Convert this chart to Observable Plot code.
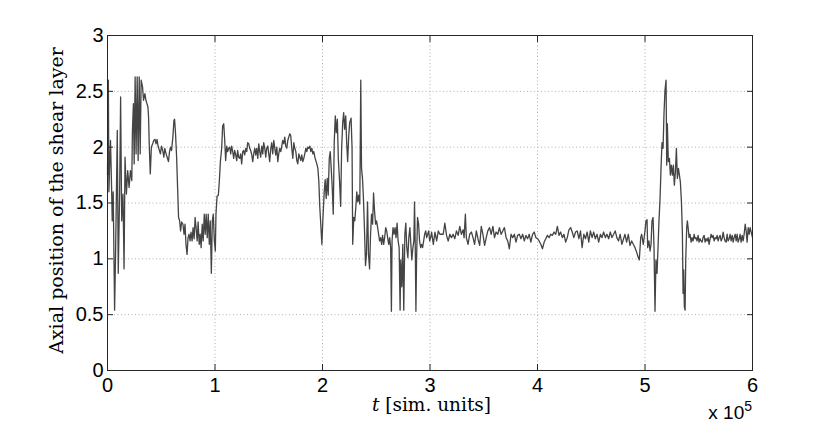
<!DOCTYPE html>
<html><head><meta charset="utf-8">
<script src="https://cdn.jsdelivr.net/npm/d3@7"></script>
<script src="https://cdn.jsdelivr.net/npm/@observablehq/plot@0.6"></script>
<style>
body{margin:0;background:#fff;}
#chart{width:830px;height:424px;}
</style></head><body><div id="chart"></div>
<script>
// time in thousands of simulation units
const timeK = [
0, 0.8, 1.3, 2.2, 2.8, 3.8, 4.4, 5.3, 6.6, 7.5,
9.1, 10.0, 11.3, 12.2, 13.2, 14.4, 15.4, 16.3, 17.6, 18.8,
20.1, 21.3, 22.6, 23.2, 24.1, 24.8, 25.7, 26.6, 27.6, 28.5,
29.5, 30.4, 31.3, 32.6, 33.5, 34.8, 35.7, 36.7, 37.6, 38.2,
38.9, 39.8, 40.8, 42.0, 43.0, 44.2, 45.1, 46.1, 47.0, 48.3,
49.2, 50.2, 51.4, 52.4, 53.3, 54.5, 55.5, 56.7, 57.7, 58.6,
59.6, 60.8, 61.8, 62.4, 63.3, 64.3, 65.2, 66.1, 67.1, 68.0,
69.0, 70.2, 71.2, 72.1, 73.0, 74.0, 74.9, 75.9, 76.8, 77.7,
78.7, 79.6, 80.6, 81.5, 82.4, 83.4, 84.3, 85.3, 86.2, 87.1,
88.1, 89.0, 90.0, 90.9, 91.8, 92.8, 93.7, 94.7, 95.6, 96.6,
97.5, 98.4, 99.4, 100.3, 100.9, 101.9, 103.1, 104.0, 105.0, 106.2,
107.1, 108.1, 109.0, 109.9, 110.9, 111.8, 112.7, 113.7, 114.6, 115.5,
116.5, 117.4, 118.3, 119.3, 120.2, 121.1, 122.0, 123.0, 123.9, 124.8,
125.8, 126.7, 127.6, 128.6, 129.5, 130.4, 131.4, 132.3, 133.2, 134.2,
135.1, 136.0, 137.0, 137.9, 138.8, 139.8, 140.7, 141.6, 142.5, 143.5,
144.4, 145.3, 146.3, 147.2, 148.1, 149.1, 150.0, 150.9, 151.9, 152.8,
153.7, 154.7, 155.6, 156.5, 157.5, 158.4, 159.3, 160.2, 161.2, 162.1,
163.0, 164.0, 164.9, 165.8, 166.8, 167.7, 168.6, 169.6, 170.5, 171.4,
172.4, 173.3, 174.2, 175.2, 176.1, 177.0, 178.0, 178.9, 179.8, 180.7,
181.7, 182.6, 183.5, 184.5, 185.4, 186.3, 187.3, 188.2, 189.1, 190.1,
191.0, 191.9, 192.9, 193.8, 194.7, 195.7, 196.6, 197.5, 198.4, 199.4,
200.3, 201.6, 202.5, 203.4, 204.4, 205.3, 206.3, 207.2, 208.1, 209.1,
210.0, 210.9, 211.9, 212.8, 213.8, 214.7, 215.9, 216.9, 217.8, 218.8,
219.7, 220.6, 221.6, 222.5, 223.4, 224.4, 225.3, 226.6, 227.5, 228.1,
229.1, 230.0, 231.0, 231.9, 232.8, 233.8, 234.7, 235.6, 236.3, 237.2,
238.1, 239.1, 240.0, 240.9, 241.9, 242.8, 243.8, 244.7, 245.6, 246.6,
247.5, 248.4, 249.4, 250.3, 251.3, 252.2, 253.1, 254.1, 255.0, 255.9,
256.9, 257.8, 258.8, 259.7, 260.6, 261.6, 262.5, 263.4, 264.1, 264.7,
265.6, 266.6, 267.5, 268.4, 269.4, 270.3, 271.3, 272.2, 272.8, 273.8,
274.7, 275.6, 276.6, 277.5, 278.4, 279.4, 280.3, 281.3, 282.2, 283.1,
284.1, 285.0, 285.6, 286.3, 286.9, 287.5, 288.4, 289.4, 290.3, 291.3,
292.2, 293.1, 294.1, 295.0, 296.0, 296.9, 297.8, 298.8, 299.7, 300.6,
301.5, 303.1, 304.6, 306.2, 307.7, 309.2, 310.8, 312.3, 313.8, 315.4,
316.9, 318.5, 320.0, 321.5, 323.1, 324.6, 326.2, 327.7, 329.2, 330.8,
331.7, 332.9, 333.8, 335.4, 336.9, 338.5, 340.0, 341.5, 343.1, 344.6,
346.2, 347.7, 349.2, 350.8, 352.3, 353.8, 355.4, 356.9, 358.5, 360.0,
361.5, 363.1, 364.6, 366.2, 367.7, 369.2, 370.8, 372.3, 373.8, 375.4,
376.9, 378.5, 380.0, 381.5, 383.1, 384.6, 386.2, 387.7, 389.2, 390.8,
392.3, 393.8, 395.4, 396.9, 398.5, 400.0, 401.5, 403.1, 404.6, 406.2,
407.7, 409.2, 410.8, 412.3, 413.8, 415.4, 416.9, 418.5, 420.0, 421.5,
423.1, 424.6, 426.2, 427.7, 429.2, 430.8, 432.3, 433.8, 435.4, 436.9,
438.5, 440.0, 441.5, 443.1, 444.6, 446.2, 447.7, 449.2, 450.8, 452.3,
453.8, 455.4, 456.9, 458.5, 460.0, 461.5, 463.1, 464.6, 466.2, 467.7,
469.2, 470.8, 472.3, 473.8, 475.4, 476.9, 478.5, 481.4, 482.9, 484.5,
486.0, 487.6, 489.1, 490.7, 492.2, 493.8, 494.7, 496.0, 496.9, 498.4,
500.0, 500.9, 501.9, 502.5, 503.7, 504.7, 505.6, 506.5, 507.5, 508.4,
509.3, 510.2, 511.2, 512.1, 513.0, 514.0, 514.9, 515.8, 516.8, 517.7,
518.6, 519.6, 520.2, 520.8, 521.7, 522.7, 523.6, 524.5, 525.5, 526.4,
527.3, 528.3, 529.2, 530.1, 531.1, 532.0, 532.9, 533.9, 534.8, 535.4,
536.0, 536.6, 537.3, 537.9, 538.8, 539.4, 540.1, 541.0, 541.9, 542.9,
543.8, 544.7, 545.7, 546.6, 547.5, 548.4, 549.4, 550.3, 551.2, 552.2,
553.1, 554.0, 555.0, 555.9, 556.8, 557.8, 558.7, 559.6, 560.6, 561.5,
562.4, 563.4, 564.3, 565.2, 566.1, 567.1, 568.0, 568.9, 569.9, 570.8,
571.7, 572.7, 573.6, 574.5, 575.5, 576.4, 577.3, 578.3, 579.2, 580.1,
581.1, 582.0, 582.9, 583.9, 584.8, 585.7, 586.6, 587.6, 588.5, 589.4,
590.4, 591.3, 592.2, 593.2, 594.1, 595.0, 596.0, 596.9, 597.8, 598.8,
600
];
const position = [
1.75, 2.6, 1.6, 1.9, 2.06, 1.64, 1.34, 1.6, 0.54, 1.04,
2.15, 0.87, 1.6, 2.45, 1.34, 1.58, 0.91, 1.91, 1.58, 1.79,
1.64, 1.79, 1.7, 2.15, 2.39, 1.85, 2.63, 1.94, 2.63, 1.88,
2.63, 1.94, 2.6, 2.54, 2.42, 2.48, 2.42, 2.39, 2.36, 2.27,
2.0, 1.76, 2.0, 2.03, 2.06, 2.07, 2.03, 2.07, 2.01, 1.97,
1.94, 2.01, 1.97, 1.91, 1.99, 1.94, 1.91, 1.87, 1.96, 2.0,
1.97, 2.09, 2.24, 2.25, 2.12, 1.91, 1.64, 1.37, 1.34, 1.25,
1.33, 1.31, 1.22, 1.31, 1.13, 1.04, 1.19, 1.22, 1.16, 1.24,
1.16, 1.28, 1.18, 1.37, 1.28, 1.16, 1.33, 1.13, 1.22, 1.1,
1.31, 1.16, 1.4, 1.22, 1.4, 1.19, 1.4, 1.13, 1.34, 0.87,
1.34, 1.4, 1.16, 1.07, 1.4, 1.56, 1.57, 1.69, 1.87, 1.99,
2.19, 2.21, 2.07, 1.88, 2.01, 1.96, 1.99, 2.0, 1.94, 2.01,
1.96, 1.9, 1.97, 1.93, 1.88, 1.97, 1.91, 1.9, 1.94, 1.85,
1.96, 1.97, 1.93, 1.99, 1.96, 2.04, 2.03, 1.99, 1.97, 1.93,
1.87, 1.94, 1.99, 1.93, 1.99, 1.9, 2.03, 1.96, 1.91, 2.01,
1.94, 2.04, 1.99, 1.91, 1.99, 2.01, 1.94, 1.87, 1.99, 2.04,
1.94, 2.06, 1.99, 1.93, 2.0, 1.87, 1.94, 1.99, 1.96, 2.01,
2.06, 2.03, 2.09, 2.01, 1.99, 2.06, 2.09, 2.12, 2.1, 1.99,
1.9, 2.04, 1.99, 1.96, 1.88, 1.85, 1.94, 1.91, 1.88, 1.93,
1.87, 1.9, 1.94, 1.99, 1.96, 2.0, 1.99, 2.01, 1.96, 1.99,
1.94, 1.96, 1.91, 1.88, 1.85, 1.81, 1.69, 1.46, 1.31, 1.13,
1.34, 1.6, 1.71, 1.54, 1.72, 1.57, 1.9, 1.96, 1.81, 1.63,
1.4, 2.04, 2.28, 2.13, 2.25, 1.9, 1.69, 1.47, 1.99, 2.22,
2.31, 2.16, 2.28, 2.04, 1.87, 2.1, 2.22, 2.26, 1.99, 1.13,
1.37, 1.34, 1.46, 1.6, 1.51, 1.57, 1.49, 2.6, 1.81, 1.72,
1.54, 1.25, 0.94, 1.04, 1.51, 1.04, 0.91, 1.22, 1.4, 1.31,
1.59, 1.43, 1.31, 1.34, 1.28, 1.22, 1.16, 1.19, 1.13, 1.21,
1.13, 1.19, 1.28, 1.25, 1.19, 1.13, 1.19, 1.1, 0.53, 1.16,
1.28, 1.22, 1.28, 1.19, 1.32, 1.16, 1.1, 0.54, 0.99, 0.75,
1.13, 0.54, 1.22, 1.32, 1.1, 1.01, 1.19, 1.28, 1.13, 0.99,
1.1, 1.16, 1.51, 1.1, 0.53, 0.99, 1.37, 1.31, 1.16, 1.1,
1.13, 1.1, 1.16, 1.22, 1.25, 1.19, 1.22, 1.25, 1.16, 1.19,
1.24, 1.13, 1.24, 1.16, 1.25, 1.22, 1.22, 1.22, 1.32, 1.21,
1.16, 1.22, 1.19, 1.22, 1.18, 1.25, 1.21, 1.29, 1.22, 1.26,
1.19, 1.4, 1.19, 1.13, 1.22, 1.24, 1.19, 1.13, 1.25, 1.18,
1.12, 1.29, 1.22, 1.12, 1.19, 1.25, 1.28, 1.22, 1.29, 1.19,
1.24, 1.22, 1.28, 1.22, 1.25, 1.28, 1.19, 1.16, 1.09, 1.22,
1.19, 1.22, 1.15, 1.21, 1.22, 1.18, 1.22, 1.16, 1.21, 1.18,
1.22, 1.15, 1.22, 1.24, 1.19, 1.18, 1.16, 1.13, 1.09, 1.15,
1.18, 1.21, 1.19, 1.22, 1.21, 1.24, 1.22, 1.29, 1.21, 1.24,
1.19, 1.22, 1.15, 1.19, 1.26, 1.28, 1.24, 1.19, 1.24, 1.25,
1.18, 1.25, 1.1, 1.22, 1.18, 1.24, 1.15, 1.25, 1.19, 1.24,
1.18, 1.22, 1.15, 1.22, 1.19, 1.24, 1.19, 1.22, 1.18, 1.24,
1.19, 1.22, 1.25, 1.19, 1.16, 1.22, 1.13, 1.22, 1.15, 1.22,
1.12, 1.16, 1.13, 1.1, 1.06, 1.01, 0.99, 1.19, 1.22, 1.13,
1.25, 1.34, 1.35, 1.1, 1.16, 1.07, 1.13, 1.34, 1.37, 1.1,
0.53, 0.99, 0.87, 1.1, 1.34, 1.54, 1.81, 2.04, 1.99, 2.31,
2.51, 2.6, 1.84, 2.21, 1.87, 1.9, 1.75, 1.84, 1.75, 1.84,
1.66, 1.78, 1.99, 1.72, 1.81, 1.75, 1.69, 1.51, 1.22, 0.69,
0.9, 0.57, 0.54, 0.99, 1.28, 1.34, 1.28, 1.19, 1.22, 1.15,
1.19, 1.16, 1.22, 1.18, 1.19, 1.16, 1.21, 1.15, 1.18, 1.16,
1.15, 1.19, 1.21, 1.15, 1.18, 1.16, 1.19, 1.13, 1.18, 1.22,
1.19, 1.21, 1.16, 1.19, 1.18, 1.21, 1.16, 1.19, 1.21, 1.16,
1.18, 1.24, 1.19, 1.16, 1.15, 1.22, 1.16, 1.18, 1.22, 1.16,
1.21, 1.15, 1.19, 1.22, 1.16, 1.22, 1.15, 1.18, 1.22, 1.15,
1.21, 1.16, 1.22, 1.31, 1.25, 1.15, 1.28, 1.22, 1.28, 1.24,
1.19
];
const xTicks = [0, 100, 200, 300, 400, 500, 600];
const xTickLabels = ["0", "1", "2", "3", "4", "5", "6"];
const yTicks = [0, 0.5, 1, 1.5, 2, 2.5, 3];
const yTickLabels = ["0", "0.5", "1", "1.5", "2", "2.5", "3"];
const yTitle = "Axial position of the shear layer";
const xTitleVar = "t";
const xTitleRest = " [sim. units]";
const xExponentBase = "x 10";
const xExponent = "5";

const data = timeK.map((t, i) => ({t, v: position[i]}));
const W = 830, H = 424, mL = 107, mR = 78, mT = 35, mB = 54;
const axisColor = "#262626";
const gridStyle = {stroke: "#b0b0b0", strokeOpacity: 1, strokeDasharray: "1,2.5", strokeWidth: 1};

const chart = Plot.plot({
  width: W, height: H,
  marginLeft: mL, marginRight: mR, marginTop: mT, marginBottom: mB,
  style: {fontFamily: "'Liberation Sans', Arial, sans-serif", fontSize: "20px", background: "#fff", color: "#000"},
  x: {domain: [0, 600]},
  y: {domain: [0, 3]},
  marks: [
    Plot.gridX(xTicks.slice(1, -1), gridStyle),
    Plot.gridY(yTicks.slice(1, -1), gridStyle),
    Plot.line(data, {x: "t", y: "v", stroke: "#444", strokeWidth: 1.3}),
    Plot.frame({stroke: axisColor, strokeWidth: 1}),
    Plot.axisX(xTicks, {anchor: "bottom", tickSize: -6, stroke: axisColor, tickFormat: () => "", label: null}),
    Plot.axisX(xTicks, {anchor: "top", tickSize: -6, stroke: axisColor, tickFormat: () => "", label: null}),
    Plot.axisY(yTicks, {anchor: "left", tickSize: -6, stroke: axisColor, tickFormat: () => "", label: null}),
    Plot.axisY(yTicks, {anchor: "right", tickSize: -6, stroke: axisColor, tickFormat: () => "", label: null}),
    Plot.axisX(xTicks, {anchor: "bottom", tickSize: 0, tickPadding: 7, fontSize: 20, tickFormat: d => xTickLabels[xTicks.indexOf(d)], label: null, fill: "#000"}),
    Plot.axisY(yTicks, {anchor: "left", tickSize: 0, tickPadding: 4, fontSize: 20, tickFormat: d => yTickLabels[yTicks.indexOf(d)], label: null, fill: "#000"})
  ]
});
document.getElementById("chart").appendChild(chart);

const svg = d3.select(chart);
svg.append("text")
  .attr("transform", `translate(63,${(mT + H - mB) / 2 - 2}) rotate(-90)`)
  .attr("text-anchor", "middle")
  .attr("font-family", "'DejaVu Serif', serif")
  .attr("font-size", 19)
  .attr("fill", "#000")
  .text(yTitle);
const xt = svg.append("text")
  .attr("x", (mL + W - mR) / 2 + 2)
  .attr("y", 411)
  .attr("text-anchor", "middle")
  .attr("font-family", "'DejaVu Serif', serif")
  .attr("font-size", 18.5)
  .attr("fill", "#000");
xt.append("tspan").attr("font-style", "italic").text(xTitleVar);
xt.append("tspan").text(xTitleRest);
const ex = svg.append("text")
  .attr("x", W - mR)
  .attr("y", 419)
  .attr("text-anchor", "end")
  .attr("font-family", "'Liberation Sans', Arial, sans-serif")
  .attr("font-size", 19)
  .attr("fill", "#000");
ex.append("tspan").text(xExponentBase);
ex.append("tspan").attr("font-size", 14).attr("dy", -8).text(xExponent);
</script>
</body></html>
